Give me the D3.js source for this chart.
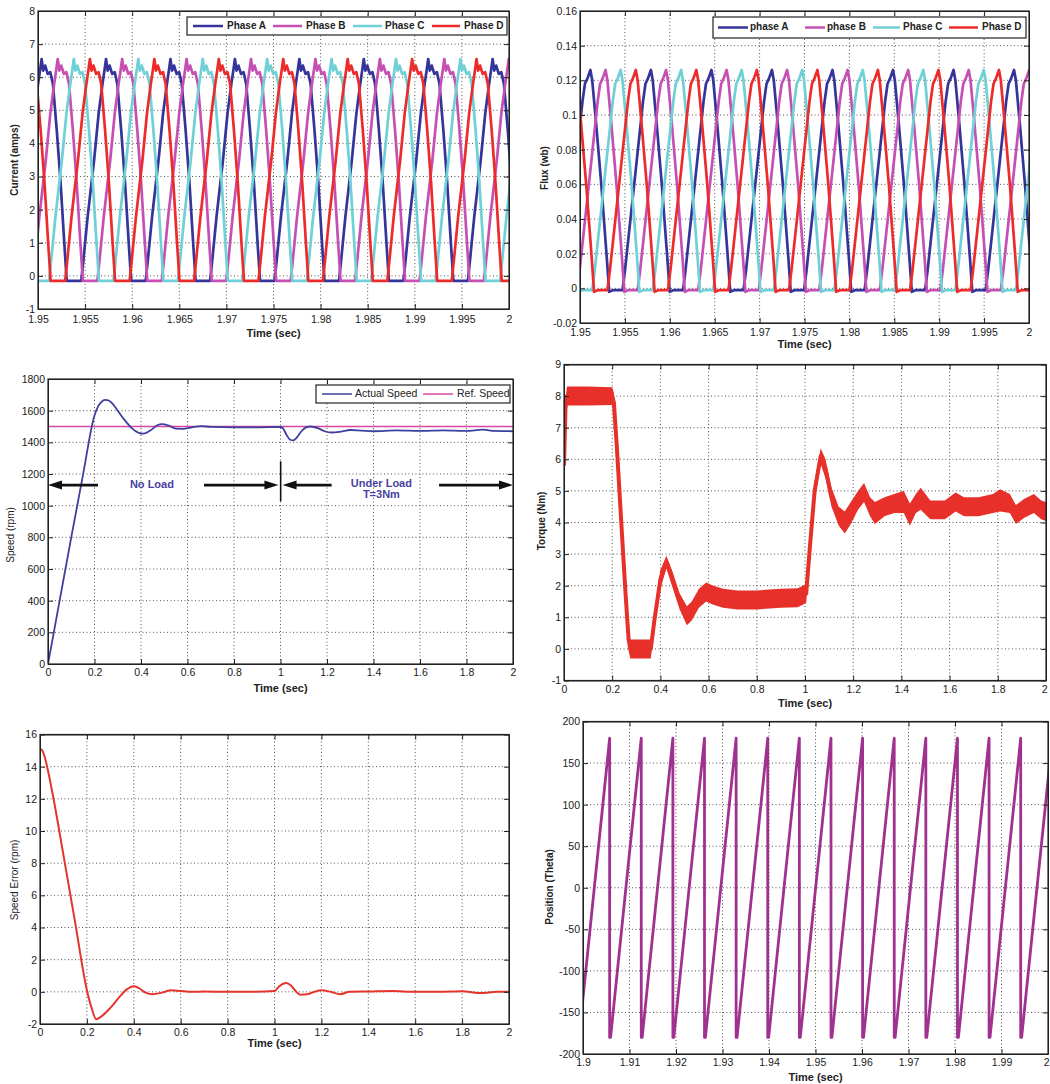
<!DOCTYPE html>
<html><head><meta charset="utf-8">
<script src="https://cdn.jsdelivr.net/npm/d3@7"></script>
<style>
body{margin:0;background:#fff;}
text{font-family:"Liberation Sans",Arial,Helvetica,sans-serif;}
.axis text{font-size:10.5px;fill:#1a1a1a;}
.axis line,.axis path{stroke:#222;}
.grid{stroke:#555;stroke-width:1;stroke-dasharray:1,2.5;}
</style></head>
<body>
<svg id="c" width="1050" height="1084"></svg>
<script>
// ---------------- DATA ----------------
// Panel 1: phase currents (template of one conduction cycle + cycle onsets)
const currentTicksX = [1.95,1.955,1.96,1.965,1.97,1.975,1.98,1.985,1.99,1.995,2];
const currentTicksY = [-1,0,1,2,3,4,5,6,7,8];
const currentPeriod = 0.00684;
const currentShapeFrac = [0,0.03,0.10,0.20,0.27,0.33,0.36,0.385,0.41,0.44,0.48,0.52,0.56,0.62,0.68,0.74,0.775,1.0];
const currentShapeVal  = [-0.15,0.4,1.8,3.5,4.9,5.8,6.2,6.55,6.2,6.35,6.1,6.15,5.8,4.4,2.8,0.9,-0.15,-0.15];
const currentOnsetA = [1.94091,1.94775,1.95459,1.96143,1.96827,1.97511,1.98195,1.98879,1.99563];
const currentOnsetB = [1.94262,1.94946,1.95630,1.96314,1.96998,1.97682,1.98366,1.99050,1.99734];
const currentOnsetC = [1.94433,1.95117,1.95801,1.96485,1.97169,1.97853,1.98537,1.99221,1.99905];
const currentOnsetD = [1.93920,1.94604,1.95288,1.95972,1.96656,1.97340,1.98024,1.98708,1.99392];
const currentNames = ["Phase A","Phase B","Phase C","Phase D"];

// Panel 2: phase flux
const fluxTicksX = [1.95,1.955,1.96,1.965,1.97,1.975,1.98,1.985,1.99,1.995,2];
const fluxTicksY = [-0.02,0,0.02,0.04,0.06,0.08,0.1,0.12,0.14,0.16];
const fluxPeriod = 0.00674;
const fluxShapeFrac = [0,0.04,0.20,0.34,0.38,0.42,0.47,0.50,0.56,0.65,0.74,0.78,0.85,1.0];
const fluxShapeVal  = [-0.001,0.010,0.062,0.108,0.118,0.121,0.126,0.12,0.097,0.06,0.018,-0.002,-0.001,-0.001];
const fluxOnsetA = [1.94125,1.94799,1.95473,1.96147,1.96821,1.97495,1.98169,1.98843,1.99517];
const fluxOnsetB = [1.94294,1.94968,1.95642,1.96316,1.96990,1.97664,1.98338,1.99012,1.99686];
const fluxOnsetC = [1.94462,1.95136,1.95810,1.96484,1.97158,1.97832,1.98506,1.99180,1.99854];
const fluxOnsetD = [1.93957,1.94631,1.95305,1.95979,1.96653,1.97327,1.98001,1.98675,1.99349];
const fluxNames = ["phase A","phase B","Phase C","Phase D"];

// Panel 3: speed
const speedTicksX = [0,0.2,0.4,0.6,0.8,1,1.2,1.4,1.6,1.8,2];
const speedTicksY = [0,200,400,600,800,1000,1200,1400,1600,1800];
const speedTime = [0,0.05,0.1,0.15,0.2,0.215,0.23,0.245,0.26,0.28,0.3,0.33,0.36,0.39,0.41,0.44,0.47,0.49,0.52,0.55,0.58,0.62,0.66,0.7,0.8,0.9,1.0,1.01,1.025,1.04,1.055,1.07,1.09,1.11,1.13,1.16,1.19,1.22,1.26,1.3,1.35,1.4,1.5,1.6,1.7,1.8,1.87,1.92,2.0];
const speedActual = [0,400,800,1190,1570,1625,1655,1668,1665,1640,1600,1540,1490,1460,1455,1475,1508,1515,1505,1486,1485,1495,1502,1498,1495,1495,1497,1490,1450,1418,1412,1430,1470,1495,1500,1490,1470,1462,1468,1478,1474,1470,1475,1472,1476,1472,1480,1472,1470];
const speedRef = 1500;
const speedNames = ["Actual Speed","Ref. Speed"];
const loadLabels = ["No Load","Under Load","T=3Nm"];

// Panel 4: torque (noisy band: centre and half-width)
const torqueTicksX = [0,0.2,0.4,0.6,0.8,1,1.2,1.4,1.6,1.8,2];
const torqueTicksY = [-1,0,1,2,3,4,5,6,7,8,9];
const torqueTime = [0,0.006,0.012,0.1,0.2,0.207,0.22,0.24,0.255,0.268,0.275,0.36,0.375,0.4,0.425,0.45,0.48,0.51,0.53,0.56,0.59,0.62,0.66,0.72,0.8,0.9,0.97,1.005,1.02,1.04,1.065,1.085,1.11,1.14,1.165,1.19,1.22,1.245,1.27,1.29,1.33,1.37,1.41,1.435,1.46,1.48,1.52,1.58,1.625,1.66,1.72,1.78,1.81,1.85,1.875,1.91,1.95,1.98,2.0];
const torqueMid  = [5.8,7.6,8.0,8.0,8.0,7.8,6.3,3.7,1.8,0.3,0.0,0.0,0.9,2.2,2.75,2.2,1.5,1.05,1.2,1.6,1.8,1.7,1.6,1.55,1.55,1.6,1.62,1.75,3.2,5.0,6.1,5.7,4.8,4.2,4.0,4.3,4.7,4.95,4.5,4.3,4.5,4.6,4.65,4.25,4.6,4.75,4.4,4.4,4.65,4.5,4.5,4.6,4.7,4.6,4.25,4.45,4.6,4.4,4.35];
const torqueHalf = [0.2,0.3,0.3,0.3,0.28,0.3,0.4,0.4,0.4,0.35,0.3,0.3,0.3,0.3,0.2,0.25,0.25,0.3,0.3,0.3,0.3,0.3,0.3,0.3,0.3,0.3,0.3,0.3,0.3,0.3,0.25,0.3,0.3,0.3,0.35,0.35,0.3,0.3,0.3,0.35,0.3,0.3,0.35,0.35,0.3,0.35,0.3,0.3,0.3,0.3,0.3,0.3,0.35,0.3,0.3,0.3,0.3,0.3,0.3];

// Panel 5: speed error
const errTicksX = [0,0.2,0.4,0.6,0.8,1,1.2,1.4,1.6,1.8,2];
const errTicksY = [-2,0,2,4,6,8,10,12,14,16];
const errTime = [0,0.01,0.02,0.05,0.1,0.15,0.2,0.22,0.24,0.26,0.3,0.34,0.37,0.4,0.42,0.45,0.48,0.52,0.56,0.6,0.65,0.7,0.8,0.9,1.0,1.02,1.05,1.07,1.09,1.11,1.14,1.17,1.2,1.24,1.28,1.32,1.4,1.5,1.6,1.7,1.8,1.88,1.95,2.0];
const errVal = [15.1,15,14.6,12.6,8.5,4.3,0.1,-1.0,-1.7,-1.55,-1.0,-0.3,0.15,0.35,0.25,-0.05,-0.15,-0.05,0.1,0.05,0.0,0.02,0.0,0.0,0.05,0.35,0.55,0.4,0.05,-0.18,-0.15,0.0,0.1,0.0,-0.15,0.0,0.02,0.05,0.0,0.0,0.03,-0.08,0.0,0.0];

// Panel 6: rotor position (sawtooth reset instants)
const posTicksX = [1.9,1.91,1.92,1.93,1.94,1.95,1.96,1.97,1.98,1.99,2];
const posTicksY = [-200,-150,-100,-50,0,50,100,150,200];
const posReset = [1.89893,1.90573,1.91253,1.91933,1.92613,1.93293,1.93973,1.94653,1.95333,1.96013,1.96693,1.97373,1.98053,1.98733,1.99413,2.00093];
const posMin = -180, posMax = 180, posHold = 0.0002;

// ---------------- DRAWING ----------------
const svg = d3.select('#c');
const fmt = d => String(Math.round(d * 10000) / 10000);
let clipN = 0;

function panel(o) {
  const x = d3.scaleLinear().domain(o.xd).range([o.l, o.r]);
  const y = d3.scaleLinear().domain(o.yd).range([o.b, o.t]);
  const g = svg.append('g');
  g.append('g').selectAll('line').data(o.xt.filter(d => d > o.xd[0] + 1e-9 && d < o.xd[1] - 1e-9)).join('line')
    .attr('class', 'grid').attr('x1', d => x(d)).attr('x2', d => x(d)).attr('y1', o.t).attr('y2', o.b);
  g.append('g').selectAll('line').data(o.yt.filter(d => d > o.yd[0] + 1e-9 && d < o.yd[1] - 1e-9)).join('line')
    .attr('class', 'grid').attr('y1', d => y(d)).attr('y2', d => y(d)).attr('x1', o.l).attr('x2', o.r);
  const id = 'clip' + (clipN++);
  svg.append('clipPath').attr('id', id).append('rect')
    .attr('x', o.l).attr('y', o.t).attr('width', o.r - o.l).attr('height', o.b - o.t);
  const plot = g.append('g').attr('clip-path', `url(#${id})`);
  o.draw(plot, x, y);
  const ax = g.append('g').attr('class', 'axis');
  const bottom = ax.append('g').attr('transform', `translate(0,${o.b})`)
    .call(d3.axisBottom(x).tickValues(o.xt).tickFormat(fmt).tickSizeInner(-5).tickSizeOuter(0).tickPadding(o.xpad));
  ax.append('g').attr('transform', `translate(0,${o.t})`)
    .call(d3.axisTop(x).tickValues(o.xt).tickFormat('').tickSizeInner(-5).tickSizeOuter(0));
  ax.append('g').attr('transform', `translate(${o.l},0)`)
    .call(d3.axisLeft(y).tickValues(o.yt).tickFormat(fmt).tickSizeInner(-5).tickSizeOuter(0).tickPadding(3));
  ax.append('g').attr('transform', `translate(${o.r},0)`)
    .call(d3.axisRight(y).tickValues(o.yt).tickFormat('').tickSizeInner(-5).tickSizeOuter(0));
  if (o.lastEnd) {
    bottom.selectAll('.tick text').filter(d => d === o.xd[1]).attr('text-anchor', 'end').attr('dx', 1);
  }
  g.append('rect').attr('x', o.l).attr('y', o.t).attr('width', o.r - o.l).attr('height', o.b - o.t)
    .attr('fill', 'none').attr('stroke', '#222').attr('stroke-width', 1.2);
  g.append('text').attr('x', (o.l + o.r) / 2).attr('y', o.xly).attr('text-anchor', 'middle')
    .attr('dominant-baseline', 'middle').attr('font-size', 11).attr('font-weight', 'bold').attr('fill', '#222')
    .text('Time (sec)');
  g.append('text').attr('transform', `translate(${o.ylx},${o.yly}) rotate(-90)`).attr('text-anchor', 'middle')
    .attr('dominant-baseline', 'middle').attr('font-size', 10).attr('font-weight', o.ylw || 'bold').attr('fill', '#222')
    .text(o.ylabel);
  return { x, y, g };
}

function periodic(onsets, period, frac, val) {
  const pts = [];
  onsets.forEach(s => frac.forEach((f, i) => pts.push([s + f * period, val[i]])));
  return pts;
}

function legend(g, box, items) {
  g.append('rect').attr('x', box[0]).attr('y', box[1]).attr('width', box[2] - box[0]).attr('height', box[3] - box[1])
    .attr('fill', '#fff').attr('stroke', '#222').attr('stroke-width', 1.2);
  const cy = (box[1] + box[3]) / 2;
  items.forEach(it => {
    g.append('line').attr('x1', it.x1).attr('x2', it.x2).attr('y1', cy).attr('y2', cy)
      .attr('stroke', it.color).attr('stroke-width', it.w);
    g.append('text').attr('x', it.tx).attr('y', cy).attr('dominant-baseline', 'middle')
      .attr('font-size', it.fs).attr('font-weight', it.fw).attr('fill', '#222').text(it.name);
  });
}

const phaseColors = ['#34349a', '#c64fb4', '#6fd0d6', '#ee2b2b'];

// ---- Panel 1 ----
const p1 = panel({
  l: 38, r: 509, t: 11, b: 309, xd: [1.95, 2], yd: [-1, 8], xt: currentTicksX, yt: currentTicksY, xpad: 7,
  xly: 334, ylx: 15, yly: 160, ylabel: 'Current (amps)',
  draw: (g, x, y) => {
    const line = d3.line().x(d => x(d[0])).y(d => y(d[1]));
    [currentOnsetA, currentOnsetB, currentOnsetC, currentOnsetD].forEach((on, i) => {
      g.append('path').attr('d', line(periodic(on, currentPeriod, currentShapeFrac, currentShapeVal)))
        .attr('fill', 'none').attr('stroke', phaseColors[i]).attr('stroke-width', 2.7).attr('stroke-linejoin', 'round');
    });
  }
});
legend(p1.g, [187, 17, 507, 35], currentNames.map((n, i) => ({
  name: n, color: phaseColors[i], w: 2.5, fs: 10, fw: 'bold',
  x1: [193, 273, 353, 432][i], x2: [223, 302, 382, 460][i], tx: [227, 306, 385, 464][i]
})));

// ---- Panel 2 ----
const p2 = panel({
  l: 580, r: 1029, t: 11, b: 323, xd: [1.95, 2], yd: [-0.02, 0.16], xt: fluxTicksX, yt: fluxTicksY, xpad: 5.5,
  xly: 345.5, ylx: 545, yly: 168, ylabel: 'Flux (wb)',
  draw: (g, x, y) => {
    const line = d3.line().x(d => x(d[0])).y(d => y(d[1]));
    [fluxOnsetA, fluxOnsetB, fluxOnsetC, fluxOnsetD].forEach((on, i) => {
      g.append('path').attr('d', line(periodic(on, fluxPeriod, fluxShapeFrac, fluxShapeVal)))
        .attr('fill', 'none').attr('stroke', phaseColors[i]).attr('stroke-width', 2.7).attr('stroke-linejoin', 'round');
    });
  }
});
legend(p2.g, [713, 17, 1026, 38], fluxNames.map((n, i) => ({
  name: n, color: phaseColors[i], w: 2.5, fs: 10, fw: 'bold',
  x1: [718, 805, 873, 949][i], x2: [748, 825, 900, 978][i], tx: [750, 827, 903, 982][i]
})));

// ---- Panel 3 ----
const speedColor = '#3f3f9f', refColor = '#d6479f', annColor = '#4a3f9f';
const p3 = panel({
  l: 48, r: 513, t: 379, b: 664, xd: [0, 2], yd: [0, 1800], xt: speedTicksX, yt: speedTicksY, xpad: 4.5,
  xly: 689, ylx: 11, yly: 535, ylabel: 'Speed (rpm)', ylw: 'normal',
  draw: (g, x, y) => {
    g.append('line').attr('x1', x(0)).attr('x2', x(2)).attr('y1', y(speedRef)).attr('y2', y(speedRef))
      .attr('stroke', refColor).attr('stroke-width', 1.6);
    const line = d3.line().curve(d3.curveMonotoneX).x((d, i) => x(speedTime[i])).y(d => y(d));
    g.append('path').attr('d', line(speedActual)).attr('fill', 'none').attr('stroke', speedColor).attr('stroke-width', 1.8);
  }
});
(function annotate() {
  const { x, y, g } = p3;
  const a = g.append('g');
  function arrow(t0, t1, v) {
    const x0 = x(t0), x1 = x(t1), yy = y(v), dir = Math.sign(x1 - x0);
    a.append('line').attr('x1', x0).attr('x2', x1 - dir * 10).attr('y1', yy).attr('y2', yy)
      .attr('stroke', '#111').attr('stroke-width', 2.6);
    a.append('path').attr('d', `M${x1},${yy}L${x1 - dir * 14},${yy - 4.5}L${x1 - dir * 14},${yy + 4.5}Z`).attr('fill', '#111');
  }
  arrow(0.215, 0.0, 1130);
  arrow(0.671, 0.991, 1130);
  arrow(1.22, 1.009, 1130);
  arrow(1.682, 2.0, 1130);
  a.append('line').attr('x1', x(1.0007)).attr('x2', x(1.0007)).attr('y1', y(1280)).attr('y2', y(1027))
    .attr('stroke', '#111').attr('stroke-width', 1.6);
  a.append('text').attr('x', x(0.447)).attr('y', y(1130)).attr('text-anchor', 'middle').attr('dominant-baseline', 'middle')
    .attr('font-size', 11).attr('font-weight', 'bold').attr('fill', annColor).text(loadLabels[0]);
  a.append('text').attr('x', x(1.434)).attr('y', y(1137)).attr('text-anchor', 'middle').attr('dominant-baseline', 'middle')
    .attr('font-size', 11).attr('font-weight', 'bold').attr('fill', annColor).text(loadLabels[1]);
  a.append('text').attr('x', x(1.434)).attr('y', y(1069)).attr('text-anchor', 'middle').attr('dominant-baseline', 'middle')
    .attr('font-size', 11).attr('font-weight', 'bold').attr('fill', annColor).text(loadLabels[2]);
})();
legend(p3.g, [316, 385, 510, 403], speedNames.map((n, i) => ({
  name: n, color: [speedColor, refColor][i], w: 1.5, fs: 10.5, fw: 'normal',
  x1: [322, 423][i], x2: [352, 453][i], tx: [355, 457][i]
})));

// ---- Panel 4 ----
const torqueColor = '#e8302a';
panel({
  l: 564, r: 1046, t: 364.5, b: 680.5, xd: [0, 2], yd: [-1, 9], xt: torqueTicksX, yt: torqueTicksY, xpad: 5,
  xly: 704, ylx: 542, yly: 521, ylabel: 'Torque (Nm)', lastEnd: true,
  draw: (g, x, y) => {
    const area = d3.area().x((d, i) => x(torqueTime[i])).y0((d, i) => y(d - torqueHalf[i])).y1((d, i) => y(d + torqueHalf[i]));
    g.append('path').attr('d', area(torqueMid)).attr('fill', torqueColor);
    const line = d3.line().x((d, i) => x(torqueTime[i])).y(d => y(d));
    g.append('path').attr('d', line(torqueMid)).attr('fill', 'none').attr('stroke', torqueColor).attr('stroke-width', 4)
      .attr('stroke-linejoin', 'round');
  }
});

// ---- Panel 5 ----
panel({
  l: 40, r: 509, t: 734.5, b: 1024, xd: [0, 2], yd: [-2, 16], xt: errTicksX, yt: errTicksY, xpad: 4.5,
  xly: 1044.5, ylx: 15, yly: 880, ylabel: 'Speed Error (rpm)', ylw: 'normal',
  draw: (g, x, y) => {
    const line = d3.line().curve(d3.curveMonotoneX).x((d, i) => x(errTime[i])).y(d => y(d));
    g.append('path').attr('d', line(errVal)).attr('fill', 'none').attr('stroke', '#e4342c').attr('stroke-width', 2);
  }
});

// ---- Panel 6 ----
panel({
  l: 583, r: 1048, t: 721.5, b: 1054, xd: [1.9, 2], yd: [-200, 200], xt: posTicksX, yt: posTicksY, xpad: 4.5,
  xly: 1078, ylx: 550, yly: 887, ylabel: 'Position (Theta)', lastEnd: true,
  draw: (g, x, y) => {
    const pts = [];
    for (let i = 1; i < posReset.length; i++) {
      pts.push([posReset[i - 1] + posHold, posMin], [posReset[i], posMax], [posReset[i], posMin]);
    }
    const line = d3.line().x(d => x(d[0])).y(d => y(d[1]));
    g.append('path').attr('d', line(pts)).attr('fill', 'none').attr('stroke', '#a1318f').attr('stroke-width', 2.8)
      .attr('stroke-linejoin', 'round');
  }
});
</script>
</body></html>
